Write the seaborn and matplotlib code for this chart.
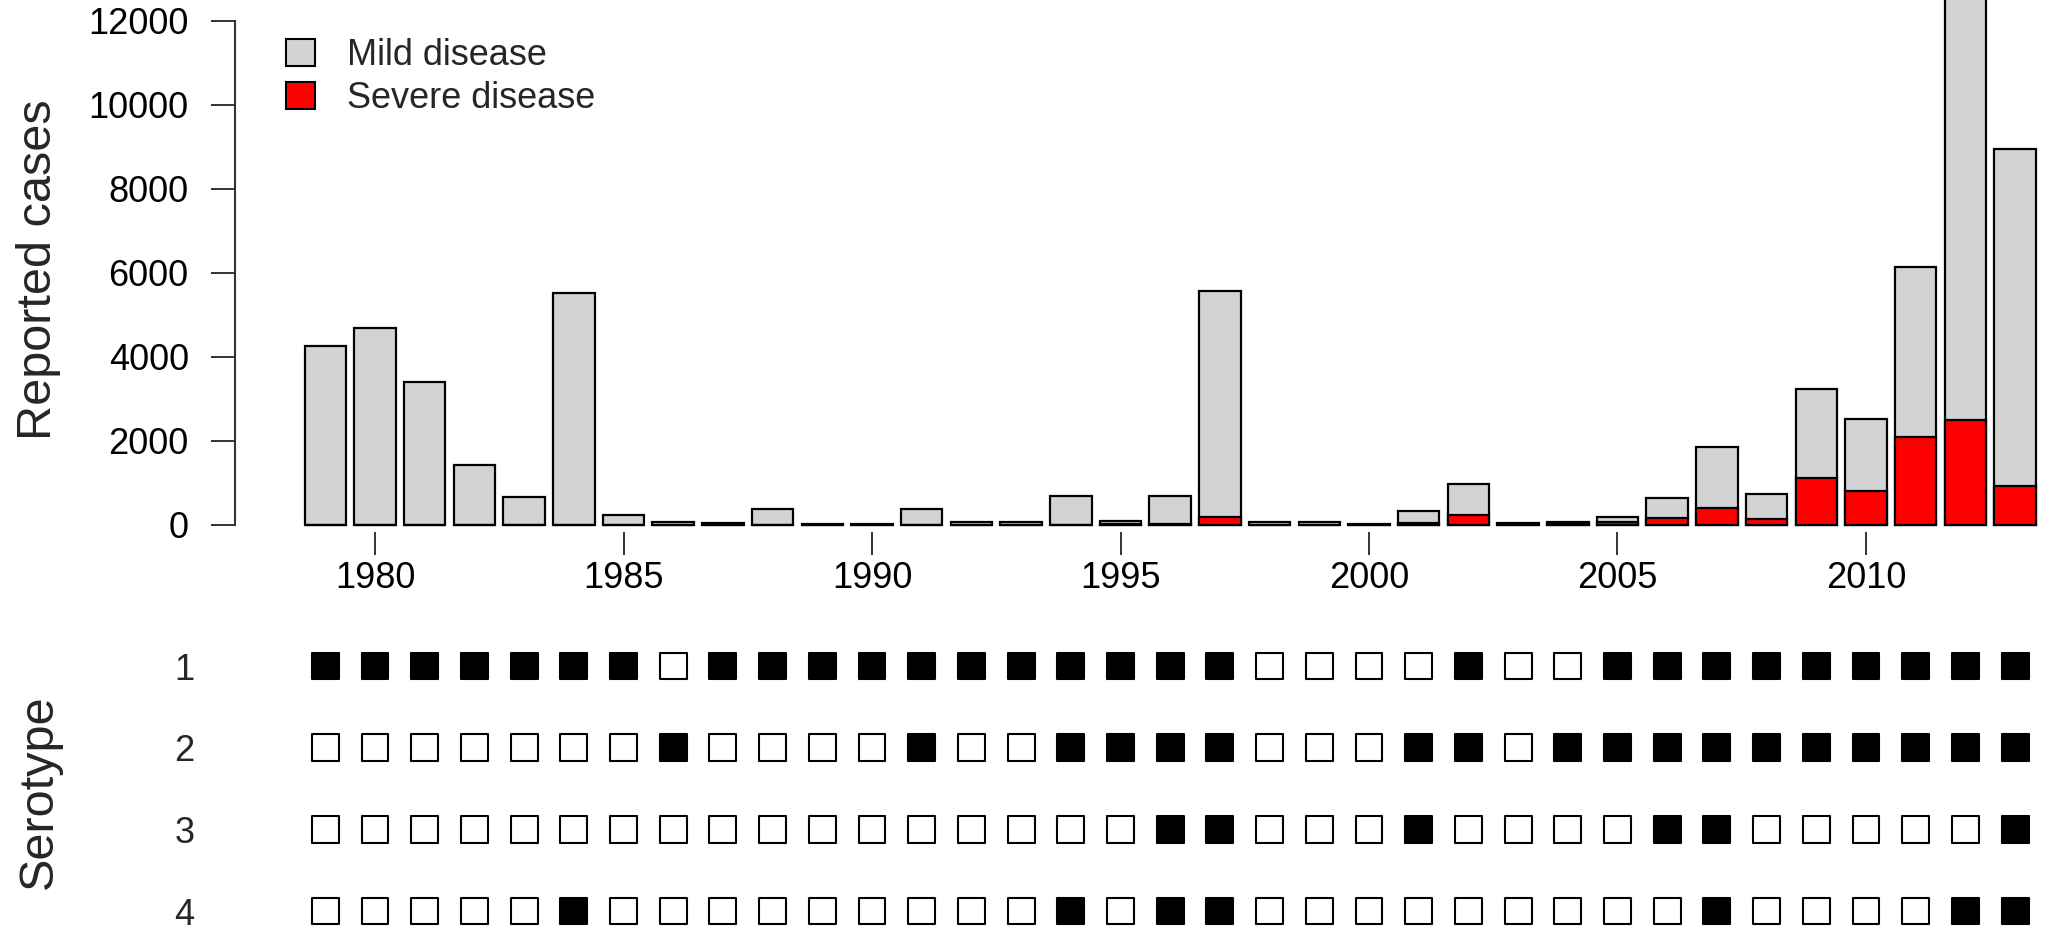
import matplotlib
matplotlib.use("Agg")
import matplotlib.pyplot as plt
from matplotlib.patches import Patch
import seaborn as sns
import pandas as pd

# ---------------- data ----------------
years = [1979, 1980, 1981, 1982, 1983, 1984, 1985, 1986, 1987, 1988,
         1989, 1990, 1991, 1992, 1993, 1994, 1995, 1996, 1997, 1998,
         1999, 2000, 2001, 2002, 2003, 2004, 2005, 2006, 2007, 2008,
         2009, 2010, 2011, 2012, 2013]
total_cases = [4250, 4690, 3390, 1420, 650, 5510, 215, 60, 30, 370,
               15, 15, 360, 50, 50, 690, 90, 670, 5560, 50,
               60, 15, 310, 970, 45, 70, 190, 640, 1850, 720,
               3220, 2520, 6130, 14500, 8950]
severe_cases = [0, 0, 0, 0, 0, 0, 0, 0, 0, 0,
                0, 0, 0, 0, 0, 0, 20, 20, 180, 0,
                0, 0, 30, 220, 0, 10, 50, 160, 390, 140,
                1110, 810, 2080, 2500, 910]
serotype_1 = [1, 1, 1, 1, 1, 1, 1, 0, 1, 1, 1, 1, 1, 1, 1, 1, 1, 1, 1, 0,
              0, 0, 0, 1, 0, 0, 1, 1, 1, 1, 1, 1, 1, 1, 1]
serotype_2 = [0, 0, 0, 0, 0, 0, 0, 1, 0, 0, 0, 0, 1, 0, 0, 1, 1, 1, 1, 0,
              0, 0, 1, 1, 0, 1, 1, 1, 1, 1, 1, 1, 1, 1, 1]
serotype_3 = [0, 0, 0, 0, 0, 0, 0, 0, 0, 0, 0, 0, 0, 0, 0, 0, 0, 1, 1, 0,
              0, 0, 1, 0, 0, 0, 0, 1, 1, 0, 0, 0, 0, 0, 1]
serotype_4 = [0, 0, 0, 0, 0, 1, 0, 0, 0, 0, 0, 0, 0, 0, 0, 1, 0, 1, 1, 0,
              0, 0, 0, 0, 0, 0, 0, 0, 1, 0, 0, 0, 0, 1, 1]
serotype_labels = ["1", "2", "3", "4"]
x_tick_years = [1980, 1985, 1990, 1995, 2000, 2005, 2010]
y_ticks = [0, 2000, 4000, 6000, 8000, 10000, 12000]

# ---------------- style ----------------
sns.set_style("white")
plt.rcParams["font.family"] = ["Liberation Sans", "DejaVu Sans"]

W, H = 2049, 930
fig = plt.figure(figsize=(W / 100, H / 100), dpi=100)

def px_axes(left, top, right, bottom):
    return fig.add_axes([left / W, 1 - bottom / H, (right - left) / W, (bottom - top) / H])

# x mapping: index 0 (1979) at px 325.3, 49.7 px per year
x0_px, dx_px = 325.3, 49.7
ax_left_px, ax_right_px = 235, 2049
xlim = ((ax_left_px - x0_px) / dx_px, (ax_right_px - x0_px) / dx_px)

# ---------------- top panel: bars ----------------
ax = px_axes(ax_left_px, 0, ax_right_px, 532)
df = pd.DataFrame({"year": years, "total": total_cases, "severe": severe_cases})
sns.barplot(data=df, x="year", y="total", color="#D3D3D3", saturation=1,
            edgecolor="black", linewidth=1.6, width=0.833, errorbar=None, ax=ax)
sns.barplot(data=df, x="year", y="severe", color="#FF0000", saturation=1,
            edgecolor="black", linewidth=1.6, width=0.833, errorbar=None, ax=ax)

base_px, per1000 = 524.5, (524.5 - 21) / 12.0
ax.set_ylim(-(532 - base_px) / per1000 * 1000, base_px / per1000 * 1000)
ax.set_xlim(*xlim)
ax.set_xticks([years.index(y) for y in x_tick_years])
ax.set_xticklabels([str(y) for y in x_tick_years])
ax.set_yticks(y_ticks)
ax.set_yticklabels([str(v) for v in y_ticks])
for s in ["top", "right", "bottom"]:
    ax.spines[s].set_visible(False)
ax.spines["left"].set_bounds(0, 12000)
ax.spines["left"].set_linewidth(1.5)
ax.spines["left"].set_color("#333333")
ax.tick_params(axis="x", length=16.6, width=1.4, pad=4.3, labelsize=26,
               direction="out", colors="#333333", labelcolor="black", bottom=True)
ax.tick_params(axis="y", length=17.3, width=1.4, pad=16, labelsize=26,
               direction="out", colors="#333333", labelcolor="black", left=True)
ax.set_xlabel("")
ax.set_ylabel("")

handles = [Patch(facecolor="#D3D3D3", edgecolor="black", linewidth=1.5, label="Mild disease"),
           Patch(facecolor="#FF0000", edgecolor="black", linewidth=1.5, label="Severe disease")]
ax.legend(handles=handles, loc="upper left", frameon=False, fontsize=26,
          bbox_to_anchor=(286 / W, 1 - 38 / H), bbox_transform=fig.transFigure,
          borderpad=0, borderaxespad=0, handlelength=0.8, handleheight=0.75,
          handletextpad=0.9, labelspacing=0.22)

# ---------------- bottom panel: serotype grid ----------------
ax2 = px_axes(ax_left_px, 600, ax_right_px, 930)
rows = []
for r, series in enumerate([serotype_1, serotype_2, serotype_3, serotype_4], start=1):
    for i, present in enumerate(series):
        rows.append({"pos": i, "row": r, "present": present})
grid = pd.DataFrame(rows)
sns.scatterplot(data=grid, x="pos", y="row", hue="present",
                palette={1: "black", 0: "white"}, marker="s", s=377,
                edgecolor="black", linewidth=1.5, legend=False, ax=ax2)
ax2.set_xlim(*xlim)
row_px = [666, 748, 830, 911]
sp = (row_px[-1] - row_px[0]) / 3
ax2.set_ylim(4 + (930 - row_px[-1]) / sp, 1 - (row_px[0] - 600) / sp)
ax2.set_xticks([])
ax2.set_yticks([1, 2, 3, 4])
ax2.set_yticklabels(serotype_labels)
ax2.tick_params(axis="y", length=0, pad=29, labelsize=26)
for s in ax2.spines.values():
    s.set_visible(False)
ax2.set_xlabel("")
ax2.set_ylabel("")

# ---------------- axis titles ----------------
fig.text(39 / W, 1 - 270 / H, "Reported cases", rotation=90, ha="center",
         va="center", fontsize=35)
fig.text(39 / W, 1 - 792 / H, "Serotype", rotation=90, ha="center",
         va="center", fontsize=35)

fig.savefig("out.png", dpi=100)
